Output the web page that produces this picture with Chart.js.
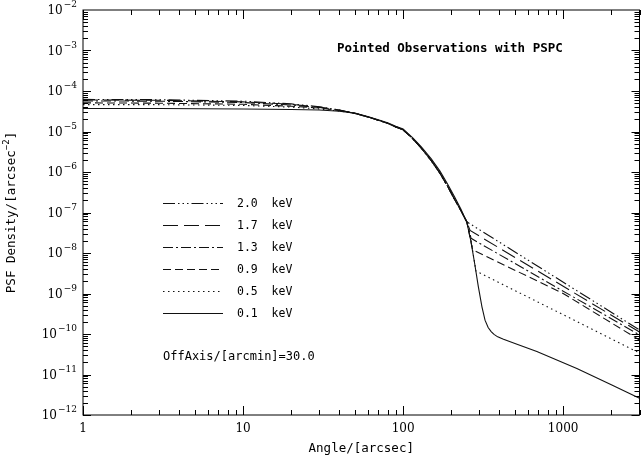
<!DOCTYPE html>
<html>
<head>
<meta charset="utf-8">
<script src="https://cdn.jsdelivr.net/npm/chart.js@4.4.1/dist/chart.umd.min.js"></script>
<style>
  html, body { margin: 0; padding: 0; background: #fff; }
</style>
</head>
<body>
<canvas id="psfChart" width="641" height="464"></canvas>
<script>
// energies shown in the legend (top to bottom)
const energyLabels = ['2.0  keV', '1.7  keV', '1.3  keV', '0.9  keV', '0.5  keV', '0.1  keV'];

// core of the PSF, angle [arcsec]
const coreAngles = [1, 3, 10, 20, 30, 40, 50, 60, 70, 80, 90, 100, 115, 130, 150, 170, 190, 210, 230, 250];

// PSF density [arcsec^-2] on the core angles
const core20 = [6.2e-5, 6.1e-5, 5.6e-5, 4.8e-5, 4.1e-5, 3.4e-5, 2.8e-5, 2.3e-5, 1.9e-5, 1.6e-5, 1.3e-5, 1.1e-5, 6.6e-6, 3.9e-6, 1.9e-6, 9.3e-7, 4.4e-7, 2.1e-7, 1.1e-7, 5.9e-8];
const core17 = [6.0e-5, 5.9e-5, 5.4e-5, 4.7e-5, 4.0e-5, 3.4e-5, 2.8e-5, 2.3e-5, 1.9e-5, 1.6e-5, 1.3e-5, 1.1e-5, 6.6e-6, 3.9e-6, 1.9e-6, 9.3e-7, 4.4e-7, 2.1e-7, 1.1e-7, 5.9e-8];
const core13 = [5.7e-5, 5.6e-5, 5.2e-5, 4.5e-5, 3.9e-5, 3.35e-5, 2.8e-5, 2.3e-5, 1.9e-5, 1.6e-5, 1.3e-5, 1.1e-5, 6.6e-6, 3.9e-6, 1.9e-6, 9.3e-7, 4.4e-7, 2.1e-7, 1.1e-7, 5.9e-8];
const core09 = [5.1e-5, 5.0e-5, 4.7e-5, 4.2e-5, 3.8e-5, 3.3e-5, 2.8e-5, 2.3e-5, 1.9e-5, 1.6e-5, 1.3e-5, 1.1e-5, 6.6e-6, 3.9e-6, 1.9e-6, 9.3e-7, 4.4e-7, 2.1e-7, 1.1e-7, 5.9e-8];
const core05 = [4.6e-5, 4.6e-5, 4.4e-5, 4.0e-5, 3.6e-5, 3.2e-5, 2.8e-5, 2.3e-5, 1.9e-5, 1.6e-5, 1.3e-5, 1.1e-5, 6.6e-6, 3.9e-6, 1.9e-6, 9.3e-7, 4.4e-7, 2.1e-7, 1.1e-7, 5.9e-8];
const core01 = [3.7e-5, 3.7e-5, 3.6e-5, 3.5e-5, 3.4e-5, 3.15e-5, 2.85e-5, 2.35e-5, 1.95e-5, 1.65e-5, 1.35e-5, 1.15e-5, 7.0e-6, 4.2e-6, 2.1e-6, 1.05e-6, 5.0e-7, 2.4e-7, 1.2e-7, 5.8e-8];

// wings beyond the core
const wingAngles20 = [3000];
const wing20 = [1.26e-10];
const wingAngles17 = [262, 3000];
const wing17 = [3.6e-8, 1.12e-10];
const wingAngles13 = [266, 3000];
const wing13 = [2.3e-8, 9.5e-11];
const wingAngles09 = [272, 1000, 3000];
const wing09 = [1.2e-8, 1.0e-9, 7.1e-11];
const wingAngles05 = [265, 285, 3000];
const wing05 = [2.2e-8, 3.6e-9, 3.4e-11];
const wingAngles01 = [265, 280, 295, 311, 325, 340, 355, 370, 390, 424, 500, 685, 1218, 2000, 3000];
const wing01 = [2.0e-8, 5.5e-9, 1.5e-9, 4.7e-10, 2.2e-10, 1.45e-10, 1.15e-10, 9.8e-11, 8.5e-11, 7.4e-11, 5.8e-11, 3.7e-11, 1.4e-11, 5.6e-12, 2.6e-12];

// tick labels
const xTickValues = [1, 10, 100, 1000];
const xTickLabels = ['1', '10', '100', '1000'];
const yTickExponents = [-2, -3, -4, -5, -6, -7, -8, -9, -10, -11, -12];

const dashes = [
    [12, 3, 1.5, 3, 1.5, 3, 1.5, 3],
    [15, 6],
    [10, 3, 2, 3],
    [8, 4],
    [1.5, 3.5],
    []
];

function toPoints(core, wingAngles, wing) {
    const xs = coreAngles.concat(wingAngles);
    const ys = core.concat(wing);
    return xs.map((x, i) => ({ x: x, y: ys[i] }));
}

const seriesData = [
    toPoints(core20, wingAngles20, wing20),
    toPoints(core17, wingAngles17, wing17),
    toPoints(core13, wingAngles13, wing13),
    toPoints(core09, wingAngles09, wing09),
    toPoints(core05, wingAngles05, wing05),
    toPoints(core01, wingAngles01, wing01)
];

const monoFont = '"DejaVu Sans Mono", monospace';
const serifFont = '"DejaVu Serif", serif';

// frame, inward ticks, labels and legend
const framePlugin = {
    id: 'framePlugin',
    afterDraw(chart) {
        const c = chart.ctx;
        const area = chart.chartArea;
        const xs = chart.scales.x;
        const ys = chart.scales.y;

        c.save();
        c.strokeStyle = '#000';
        c.fillStyle = '#000';
        c.lineWidth = 1;
        c.setLineDash([]);
        c.strokeRect(area.left, area.top, area.right - area.left, area.bottom - area.top);

        // x ticks
        c.beginPath();
        for (let d = 1; d <= 1000; d *= 10) {
            for (let m = 1; m <= 9; m++) {
                const v = d * m;
                if (v > 3000) continue;
                const px = Math.round(xs.getPixelForValue(v)) + 0.5;
                const len = m === 1 ? 9 : 5;
                c.moveTo(px, area.bottom);
                c.lineTo(px, area.bottom - len);
                c.moveTo(px, area.top);
                c.lineTo(px, area.top + len);
            }
        }
        // y ticks
        for (let e = -12; e < -2; e++) {
            for (let m = 1; m <= 9; m++) {
                const v = m * Math.pow(10, e);
                const py = Math.round(ys.getPixelForValue(v)) + 0.5;
                const len = m === 1 ? 8 : 5;
                c.moveTo(area.left, py);
                c.lineTo(area.left + len, py);
                c.moveTo(area.right, py);
                c.lineTo(area.right - len, py);
            }
        }
        c.stroke();

        // x tick labels
        c.font = '12px ' + serifFont;
        c.textAlign = 'center';
        c.textBaseline = 'middle';
        xTickValues.forEach((v, i) => {
            c.fillText(xTickLabels[i], xs.getPixelForValue(v), 429);
        });

        // y tick labels: 10 with superscript exponent
        yTickExponents.forEach(e => {
            const py = ys.getPixelForValue(Math.pow(10, e));
            const sup = '\u2212' + String(-e);
            c.font = '9px ' + serifFont;
            c.textAlign = 'right';
            const supW = c.measureText(sup).width;
            c.fillText(sup, 77, py - 5);
            c.font = '12px ' + serifFont;
            c.fillText('10', 77 - supW - 1, py + 1);
        });

        // axis titles
        c.font = '12.5px ' + monoFont;
        c.textAlign = 'center';
        c.fillText('Angle/[arcsec]', (area.left + area.right) / 2, 449);

        c.save();
        c.translate(12, (area.top + area.bottom) / 2);
        c.rotate(-Math.PI / 2);
        const mainTxt = 'PSF Density/[arcsec';
        const supTxt = '\u22122';
        const endTxt = ']';
        c.font = '12.5px ' + monoFont;
        const w1 = c.measureText(mainTxt).width;
        const w3 = c.measureText(endTxt).width;
        c.font = '9px ' + monoFont;
        const w2 = c.measureText(supTxt).width;
        const sx = -(w1 + w2 + w3) / 2;
        c.textAlign = 'left';
        c.font = '12.5px ' + monoFont;
        c.fillText(mainTxt, sx, 0);
        c.font = '9px ' + monoFont;
        c.fillText(supTxt, sx + w1, -5);
        c.font = '12.5px ' + monoFont;
        c.fillText(endTxt, sx + w1 + w2, 0);
        c.restore();

        // annotations
        c.font = 'bold 12.5px ' + monoFont;
        c.textAlign = 'left';
        c.fillText('Pointed Observations with PSPC', 337, 49);
        c.font = '12px ' + monoFont;
        c.fillText('OffAxis/[arcmin]=30.0', 163, 357);

        // legend
        chart.data.datasets.forEach((ds, i) => {
            const py = 203.5 + i * 22;
            c.strokeStyle = ds.borderColor;
            c.lineWidth = ds.borderWidth;
            c.setLineDash(ds.borderDash || []);
            c.beginPath();
            c.moveTo(163, py);
            c.lineTo(223, py);
            c.stroke();
            c.setLineDash([]);
            c.font = '11.5px ' + monoFont;
            c.fillText(ds.label, 237, py + 1);
        });
        c.restore();
    }
};

new Chart(document.getElementById('psfChart'), {
    type: 'line',
    data: {
        datasets: seriesData.map((pts, i) => ({
            label: energyLabels[i],
            data: pts,
            borderColor: '#111',
            borderWidth: 1.1,
            borderDash: dashes[i],
            pointRadius: 0,
            fill: false,
            tension: 0
        }))
    },
    options: {
        responsive: false,
        animation: false,
        devicePixelRatio: 1,
        layout: {
            padding: { left: 83, right: 1.5, top: 10, bottom: 49 }
        },
        plugins: {
            legend: { display: false },
            tooltip: { enabled: false }
        },
        scales: {
            x: {
                type: 'logarithmic',
                min: 1,
                max: 3000,
                display: false
            },
            y: {
                type: 'logarithmic',
                min: 1e-12,
                max: 1e-2,
                display: false
            }
        }
    },
    plugins: [framePlugin]
});
</script>
</body>
</html>
